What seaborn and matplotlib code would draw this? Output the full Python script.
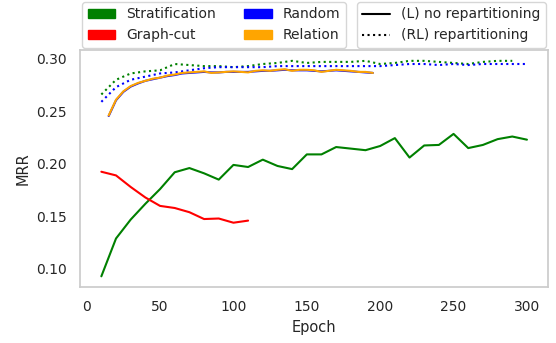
import numpy as np
import pandas as pd
import matplotlib
matplotlib.use("Agg")
import matplotlib.pyplot as plt
from matplotlib.patches import Patch
from matplotlib.lines import Line2D
import seaborn as sns

# ---- data ----
strat_L_epochs = list(range(10, 301, 10))
strat_L = [0.093, 0.129, 0.147, 0.162, 0.176, 0.192, 0.196, 0.191, 0.185, 0.199,
           0.197, 0.204, 0.198, 0.195, 0.209, 0.209, 0.216, 0.2145, 0.213, 0.217,
           0.2245, 0.206, 0.2175, 0.218, 0.2285, 0.215, 0.218, 0.2235, 0.226, 0.223]

gcut_L_epochs = list(range(10, 111, 10))
gcut_L = [0.1925, 0.189, 0.178, 0.168, 0.160, 0.158, 0.154, 0.1475, 0.148, 0.144, 0.146]

rel_L_epochs = list(range(15, 196, 5))
rel_L = [0.246, 0.261, 0.269, 0.274, 0.277, 0.279, 0.281, 0.282, 0.284, 0.285,
         0.2865, 0.287, 0.2875, 0.288, 0.2865, 0.287, 0.2875, 0.288, 0.2875, 0.287,
         0.2885, 0.289, 0.2885, 0.2895, 0.290, 0.2885, 0.2895, 0.2895, 0.289, 0.2875,
         0.2885, 0.2895, 0.289, 0.2885, 0.2875, 0.2875, 0.2865]
rand_L = [0.2455, 0.2605, 0.2685, 0.2735, 0.2765, 0.279, 0.2805, 0.282, 0.2835, 0.2845,
          0.286, 0.2865, 0.287, 0.2875, 0.287, 0.287, 0.2875, 0.2875, 0.2875, 0.2875,
          0.288, 0.2885, 0.2885, 0.289, 0.2895, 0.289, 0.289, 0.289, 0.2885, 0.288,
          0.2885, 0.289, 0.2885, 0.288, 0.2875, 0.287, 0.2865]

strat_RL_epochs = list(range(10, 291, 10))
strat_RL = [0.266, 0.280, 0.286, 0.288, 0.289, 0.295, 0.294, 0.293, 0.293, 0.292,
            0.293, 0.295, 0.296, 0.298, 0.296, 0.297, 0.297, 0.297, 0.298, 0.295,
            0.296, 0.298, 0.298, 0.297, 0.296, 0.295, 0.297, 0.298, 0.298]

rand_RL_epochs = list(range(10, 301, 10))
rand_RL = [0.259, 0.273, 0.280, 0.283, 0.286, 0.287, 0.289, 0.291, 0.292, 0.292,
           0.292, 0.292, 0.293, 0.293, 0.293, 0.293, 0.293, 0.293, 0.293, 0.293,
           0.294, 0.295, 0.295, 0.294, 0.295, 0.294, 0.295, 0.295, 0.295, 0.295]

method_names = ["Stratification", "Graph-cut", "Random", "Relation"]
method_colors = ["green", "red", "blue", "orange"]
style_names = ["(L) no repartitioning", "(RL) repartitioning"]

# ---- plotting ----
sns.set_theme(style="whitegrid", rc={
    "font.size": 10, "axes.labelsize": 10.5, "xtick.labelsize": 10,
    "ytick.labelsize": 10, "legend.fontsize": 10})
plt.rcParams['font.family'] = ['DejaVu Sans']

fig, ax = plt.subplots(figsize=(5.56, 3.43), dpi=100)
fig.subplots_adjust(left=0.144, right=0.986, bottom=0.163, top=0.854)

lw = 1.5
series = [
    (strat_RL_epochs, strat_RL, "green", ":"),
    (rand_RL_epochs, rand_RL, "blue", ":"),
    (strat_L_epochs, strat_L, "green", "-"),
    (gcut_L_epochs, gcut_L, "red", "-"),
    (rel_L_epochs, rand_L, "blue", "-"),
    (rel_L_epochs, rel_L, "orange", "-"),
]
for x, y, c, ls in series:
    sns.lineplot(x=x, y=y, color=c, linestyle=ls, linewidth=lw, ax=ax)

ax.grid(False)
ax.set_xlabel("Epoch")
ax.set_ylabel("MRR")
ax.set_xticks([0, 50, 100, 150, 200, 250, 300])
ax.set_yticks([0.10, 0.15, 0.20, 0.25, 0.30])
ax.set_yticklabels(["0.10", "0.15", "0.20", "0.25", "0.30"])

h1 = [Patch(facecolor=c, edgecolor=c) for c in method_colors]
leg1 = ax.legend(h1, method_names, ncol=2, loc="lower left",
                 bbox_to_anchor=(0.0, 1.0), borderaxespad=0.15,
                 handlelength=2.0, frameon=True)
ax.add_artist(leg1)
h2 = [Line2D([], [], color="black", linestyle="-", linewidth=lw),
      Line2D([], [], color="black", linestyle=":", linewidth=lw)]
ax.legend(h2, style_names, loc="lower right", bbox_to_anchor=(1.0, 1.0),
          borderaxespad=0.15, frameon=True)

fig.savefig("out.png", dpi=100)
